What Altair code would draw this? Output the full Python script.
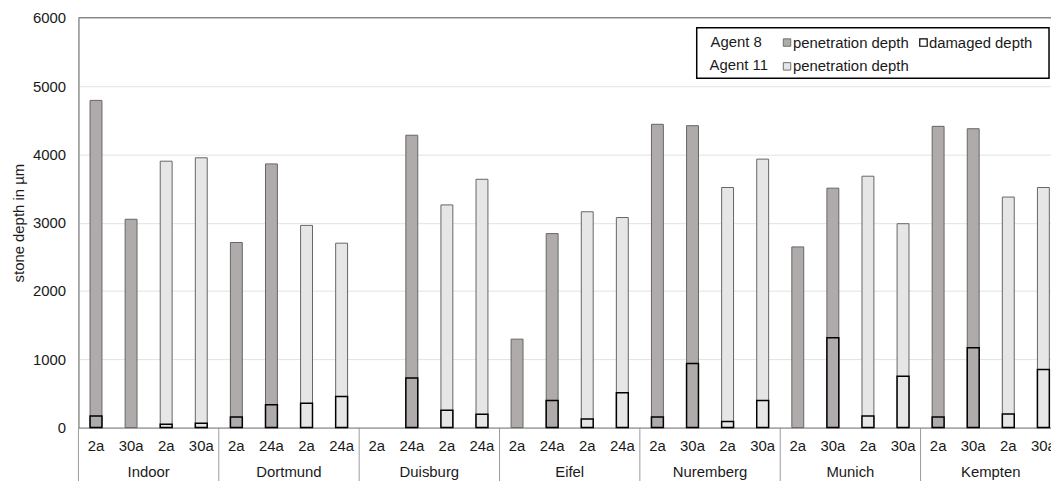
import altair as alt
import pandas as pd

# ---- data ----
groups = ["Indoor", "Dortmund", "Duisburg", "Eifel", "Nuremberg", "Munich", "Kempten"]
ages = ["2a", "30a", "2a", "30a",
        "2a", "24a", "2a", "24a",
        "2a", "24a", "2a", "24a",
        "2a", "24a", "2a", "24a",
        "2a", "30a", "2a", "30a",
        "2a", "30a", "2a", "30a",
        "2a", "30a", "2a", "30a"]
agents = ["Agent 8", "Agent 8", "Agent 11", "Agent 11"] * 7
penetration = [4790, 3050, 3900, 3950,
               2710, 3860, 2960, 2700,
               0, 4280, 3260, 3635,
               1295, 2840, 3160, 3075,
               4440, 4420, 3515, 3930,
               2645, 3505, 3680, 2985,
               4410, 4375, 3375, 3515]
damaged = [170, 0, 50, 65,
           155, 335, 355, 455,
           0, 725, 255, 195,
           0, 395, 125, 510,
           155, 940, 90, 395,
           0, 1315, 170, 750,
           155, 1170, 200, 850]

n = len(ages)
df = pd.DataFrame({
    "idx": list(range(n)),
    "age": ages,
    "agent": agents,
    "penetration": penetration,
    "damaged": damaged,
    "group": [groups[i // 4] for i in range(n)],
})
grp_df = pd.DataFrame({"group": groups, "mid": [4 * i + 1.5 for i in range(len(groups))]})
sep_df = pd.DataFrame({"sep": [4 * i - 0.5 for i in range(len(groups))]})
one = pd.DataFrame({"k": [0]})

FONT = "Liberation Sans"
FS = 15
TXT = "#1a1a1a"
W, H = 980, 413
C8, C11 = "#afabab", "#e6e6e6"

xscale = alt.Scale(domain=[-0.5, 27.217], nice=False, zero=False, padding=0)
yscale = alt.Scale(domain=[0, 6000], nice=False, padding=0)

x_axis = alt.Axis(labels=False, title=None, ticks=False, tickSize=0, grid=False,
                  domainColor="#808080")
y_axis = alt.Axis(values=[0, 1000, 2000, 3000, 4000, 5000, 6000], format="d",
                  title="stone depth in µm",
                  ticks=False, tickSize=0, grid=True, gridColor="#e2e2e2", domainColor="#666666",
                  labelFontSize=FS, labelPadding=13, labelColor=TXT, labelFont=FONT,
                  titleFontSize=FS, titleFontWeight="normal", titleColor=TXT, titleFont=FONT,
                  titlePadding=6)

color = alt.Color("agent:N", scale=alt.Scale(domain=["Agent 8", "Agent 11"], range=[C8, C11]),
                  legend=None)

bars = alt.Chart(df).transform_filter("datum.penetration > 0").mark_bar(
    size=12, stroke="#666666", strokeWidth=1
).encode(
    x=alt.X("idx:Q", scale=xscale, axis=x_axis),
    y=alt.Y("penetration:Q", scale=yscale, axis=y_axis),
    color=color,
)

dmg = alt.Chart(df).transform_filter("datum.damaged > 0").mark_bar(
    size=12, stroke="#000000", strokeWidth=1.5
).encode(
    x=alt.X("idx:Q", scale=xscale),
    y=alt.Y("damaged:Q", scale=yscale),
    color=color,
)

top_rule = alt.Chart(one).mark_rule(color="#666666", strokeWidth=1).encode(
    y=alt.datum(6000, scale=yscale), x=alt.value(0), x2=alt.value(W)
)

seps = alt.Chart(sep_df).mark_rule(color="#9a9a9a", strokeWidth=1).encode(
    x=alt.X("sep:Q", scale=xscale), y=alt.value(H), y2=alt.value(H + 60)
)

age_text = alt.Chart(df).mark_text(fontSize=FS, font=FONT, color=TXT, baseline="middle").encode(
    x=alt.X("idx:Q", scale=xscale), y=alt.value(H + 19), text="age:N"
)

grp_text = alt.Chart(grp_df).mark_text(fontSize=FS, font=FONT, color=TXT, baseline="middle").encode(
    x=alt.X("mid:Q", scale=xscale), y=alt.value(H + 45), text="group:N"
)

# ---- legend ----
lg_box = alt.Chart(one).mark_rect(fill="white", stroke="#000000", strokeWidth=1.5).encode(
    x=alt.value(623), x2=alt.value(978), y=alt.value(10), y2=alt.value(61)
)


def ltext(s, x, y):
    return alt.Chart(one).mark_text(fontSize=FS, font=FONT, color=TXT, align="left",
                                    baseline="middle").encode(
        x=alt.value(x), y=alt.value(y), text=alt.value(s))


def lsq(x, y, fill, stroke, sw):
    return alt.Chart(one).mark_square(size=56, fill=fill, stroke=stroke, strokeWidth=sw,
                                      opacity=1).encode(x=alt.value(x), y=alt.value(y))


legend = [
    lg_box,
    ltext("Agent 8", 637, 24),
    ltext("Agent 11", 636, 48),
    lsq(714, 25, C8, "#6e6e6e", 1),
    ltext("penetration depth", 720, 25),
    lsq(851.5, 25, "white", "#000000", 1.2),
    ltext("damaged depth", 857, 25),
    lsq(714, 49, C11, "#6e6e6e", 1),
    ltext("penetration depth", 720, 49),
]

chart = alt.layer(bars, dmg, top_rule, seps, age_text, grp_text, *legend).properties(
    width=W, height=H,
    autosize=alt.AutoSizeParams(type="none"),
    padding={"left": 71, "top": 8, "right": 0, "bottom": 52},
).configure_view(stroke=None).configure(background="white")

chart.save("out.html", embed_options={"renderer": "svg", "actions": False})
